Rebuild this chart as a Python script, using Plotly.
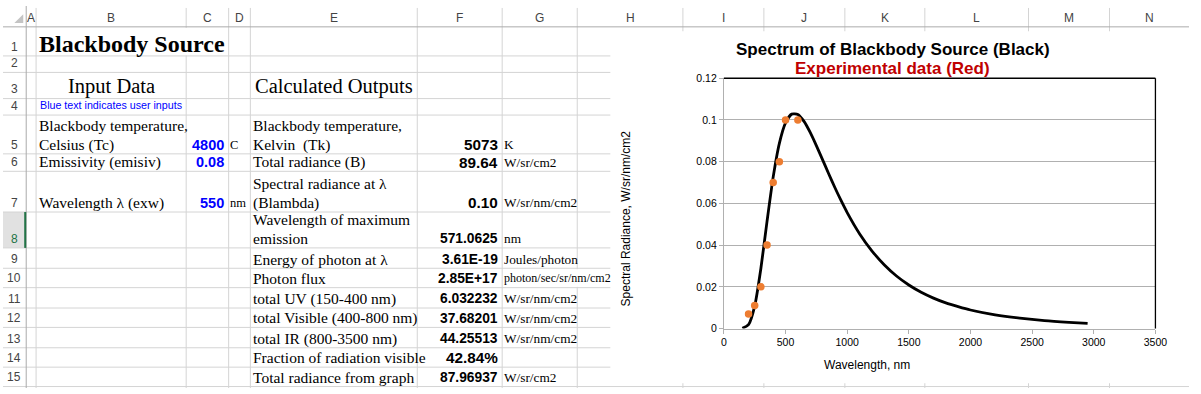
import plotly.graph_objects as go

W, H = 1201, 394

# ---------------- chart data ----------------
wavelength_nm = [150, 200, 250, 300, 350, 400, 450, 500, 550, 600, 650, 700, 750, 800, 850, 900,
                 950, 1000, 1100, 1200, 1300, 1400, 1500, 1600, 1700, 1800, 1900, 2000, 2200,
                 2400, 2600, 2800, 2950]
spectral_radiance = [0.0001, 0.0019, 0.0108, 0.0288, 0.0514, 0.0727, 0.0888, 0.0986, 0.1028,
                     0.1026, 0.0993, 0.0940, 0.0877, 0.0810, 0.0742, 0.0676, 0.0614, 0.0556,
                     0.0455, 0.0373, 0.0306, 0.0252, 0.0209, 0.0174, 0.0146, 0.0123, 0.0105,
                     0.0089, 0.0066, 0.0050, 0.0038, 0.0030, 0.0025]
exp_wavelength_nm = [200, 250, 300, 350, 400, 450, 500, 600]
exp_radiance = [0.007, 0.011, 0.02, 0.04, 0.07, 0.08, 0.1, 0.1]

y_tick_vals = [0, 0.02, 0.04, 0.06, 0.08, 0.1, 0.12]
y_tick_text = ["0", "0.02", "0.04", "0.06", "0.08", "0.1", "0.12"]
x_tick_vals = [0, 500, 1000, 1500, 2000, 2500, 3000, 3500]

chart_title_1 = "Spectrum of Blackbody Source (Black)"
chart_title_2 = "Experimental data (Red)"
x_title = "Wavelength, nm"
y_title = "Spectral Radiance, W/sr/nm/cm2"

# ---------------- spreadsheet content ----------------
col_letters = ["A", "B", "C", "D", "E", "F", "G", "H", "I", "J", "K", "L", "M", "N"]
row_numbers = [str(i) for i in range(1, 16)]

sheet_title = "Blackbody Source"
input_header = "Input Data"
output_header = "Calculated Outputs"
note_text = "Blue text indicates user inputs"

input_rows = [5, 6, 7]
input_labels = [["Blackbody temperature,", "Celsius (Tc)"], ["Emissivity (emisiv)"], ["Wavelength λ (exw)"]]
input_values = ["4800", "0.08", "550"]
input_units = ["C", "", "nm"]

output_rows = [5, 6, 7, 8, 9, 10, 11, 12, 13, 14, 15]
output_labels = [["Blackbody temperature,", "Kelvin\u00a0 (Tk)"], ["Total radiance (B)"],
                 ["Spectral radiance at λ", "(Blambda)"], ["Wavelength of maximum", "emission"],
                 ["Energy of photon at λ"], ["Photon flux"], ["total UV (150-400 nm)"],
                 ["total Visible (400-800 nm)"], ["total IR (800-3500 nm)"],
                 ["Fraction of radiation visible"], ["Total radiance from graph"]]
output_values = ["5073", "89.64", "0.10", "571.0625", "3.61E-19", "2.85E+17", "6.032232",
                 "37.68201", "44.25513", "42.84%", "87.96937"]
output_units = ["K", "W/sr/cm2", "W/sr/nm/cm2", "nm", "Joules/photon", "photon/sec/sr/nm/cm2",
                "W/sr/nm/cm2", "W/sr/nm/cm2", "W/sr/nm/cm2", "", "W/sr/cm2"]

# ---------------- sheet geometry (pixels) ----------------
ROW_HDR_W = 23.5
HDR_H = 21.5
col_edges = [33.5, 185.5, 228.5, 250.5, 419.5, 505.5, 581.5, 688.5, 770.5, 852.5, 933.5, 1038.5, 1120.5, 1202]
row_edges = [21.5, 51.5, 68.5, 95.5, 112.5, 152.5, 170.5, 212.5, 249.5, 270.5, 290.5, 311.5, 331.5, 352.5, 372.5, 392.5]

SERIF = "Liberation Serif"
SANS = "Liberation Sans"
GRID = "#D4D4D4"
HDRLINE = "#ABABAB"


def px(x):
    return x / W


def py(y):
    return 1 - y / H


def line(x0, y0, x1, y1, color, width=1, layer="below"):
    return dict(type="line", xref="paper", yref="paper", x0=px(x0), y0=py(y0), x1=px(x1), y1=py(y1),
                line=dict(color=color, width=width), layer=layer)


def rect(x0, y0, x1, y1, fill, layer="below"):
    return dict(type="rect", xref="paper", yref="paper", x0=px(x0), y0=py(y0), x1=px(x1), y1=py(y1),
                line=dict(width=0), fillcolor=fill, layer=layer)


def ann(text, x, y, size, family=SERIF, color="#000000", bold=False, xanchor="left", angle=0):
    if bold:
        text = "<b>" + text + "</b>"
    return dict(text=text, x=px(x), y=py(y), xref="paper", yref="paper", xanchor=xanchor,
                yanchor="middle", showarrow=False, borderpad=0, borderwidth=0, textangle=angle,
                font=dict(size=size, family=family, color=color))


shapes = []
annotations = []

# selected row 8 header
shapes.append(rect(0, row_edges[7], ROW_HDR_W, row_edges[8], "#E1E1E1"))

# horizontal grid lines (incl. row header separators)
for yb in row_edges[1:]:
    shapes.append(line(0, yb, W, yb, GRID))
# vertical grid lines
for xe in col_edges[:-1]:
    shapes.append(line(xe, 2, xe, H, GRID))
# hide grid where text overflows
shapes.append(rect(col_edges[1] - 1.5, row_edges[0] + 1, col_edges[1] + 1.5, row_edges[1] - 0.8, "white"))
shapes.append(rect(col_edges[6] - 1.5, row_edges[9] + 1, col_edges[6] + 1.5, row_edges[10] - 0.8, "white"))
# header lines
shapes.append(line(0, HDR_H, W, HDR_H, HDRLINE))
shapes.append(line(ROW_HDR_W, 0, ROW_HDR_W, H, HDRLINE))
# selection mark on row 8 header
shapes.append(line(ROW_HDR_W - 1, row_edges[7], ROW_HDR_W - 1, row_edges[8], "#217346", 2))
# corner triangle
shapes.append(dict(type="path", xref="paper", yref="paper",
                   path="M %f %f L %f %f L %f %f Z" % (px(20.5), py(8.5), px(20.5), py(17.5), px(11.5), py(17.5)),
                   fillcolor="#C4C4C4", line=dict(width=0), layer="below"))

# chart object background
shapes.append(rect(615, 26, W + 1, 389, "white"))

# top and right plot-area border of the chart
shapes.append(dict(type="line", xref="x domain", yref="y domain", x0=0, y0=1, x1=1, y1=1,
                   line=dict(color="black", width=1.3), layer="above"))
shapes.append(dict(type="line", xref="x domain", yref="y domain", x0=1, y0=0, x1=1, y1=1,
                   line=dict(color="black", width=1.3), layer="above"))

# column letters
col_lefts = [ROW_HDR_W] + col_edges[:-1]
for i, letter in enumerate(col_letters):
    cx = (col_lefts[i] + col_edges[i]) / 2
    annotations.append(ann(letter, cx, 12.5, 12, SANS, "#444444", xanchor="center"))

# row numbers
for i, rn in enumerate(row_numbers):
    cy = row_edges[i + 1] - 9.5
    color = "#217346" if rn == "8" else "#444444"
    annotations.append(ann(rn, 11.5, cy, 12, SANS, color, xanchor="center"))


def row_center(r, line_from_bottom=0):
    return row_edges[r] - 9.5 - 20 * line_from_bottom


# title & headers
annotations.append(ann(sheet_title, 36, 39, 24, SERIF, bold=True))
annotations.append(ann(input_header, (col_edges[0] + col_edges[1]) / 2, 83.5, 20.5, SERIF, xanchor="center"))
annotations.append(ann(output_header, (col_edges[3] + col_edges[4]) / 2, 83.5, 20.5, SERIF, xanchor="center"))
annotations.append(ann(note_text, 37, 102, 10.7, SANS, "#0000FF"))

# inputs
for r, labels, val, unit in zip(input_rows, input_labels, input_values, input_units):
    n = len(labels)
    for k, t in enumerate(labels):
        annotations.append(ann(t, 36, row_center(r, n - 1 - k), 15.5, SERIF))
    annotations.append(ann(val, 224, row_center(r), 14.5, SANS, "#0000FF", bold=True, xanchor="right"))
    if unit:
        annotations.append(ann(unit, 229.5, row_center(r), 12.5, SERIF))

# outputs
for r, labels, val, unit in zip(output_rows, output_labels, output_values, output_units):
    n = len(labels)
    for k, t in enumerate(labels):
        annotations.append(ann(t, 253, row_center(r, n - 1 - k), 15.5, SERIF))
    vsize = 15.3 if len(val) <= 6 else 13.8
    annotations.append(ann(val, 501, row_center(r), vsize, SANS, bold=True, xanchor="right"))
    if unit:
        usize = 12 if len(unit) > 14 else 13.3
        annotations.append(ann(unit, 507.5, row_center(r), usize, SERIF))

# chart titles
annotations.append(ann(chart_title_1, 901, 44.5, 17, SANS, bold=True, xanchor="center"))
annotations.append(ann(chart_title_2, 901, 64.5, 17, SANS, "#C00000", bold=True, xanchor="center"))
annotations.append(ann(x_title, 875, 370.5, 12, SANS, xanchor="center"))
annotations.append(ann(y_title, 631, 219, 12, SANS, xanchor="center", angle=-90))

fig = go.Figure()
fig.add_trace(go.Scatter(x=wavelength_nm, y=spectral_radiance, mode="lines",
                         line=dict(color="black", width=2.8, shape="spline", smoothing=0.6),
                         hoverinfo="skip", showlegend=False))
fig.add_trace(go.Scatter(x=exp_wavelength_nm, y=exp_radiance, mode="markers",
                         marker=dict(color="#ED7D31", size=7.5, line=dict(width=0)),
                         hoverinfo="skip", showlegend=False))

axis_gray = "#B0B0B0"
fig.update_layout(
    width=W, height=H, autosize=False,
    margin=dict(l=0, r=0, t=0, b=0, pad=0),
    paper_bgcolor="white", plot_bgcolor="rgba(0,0,0,0)",
    showlegend=False,
    xaxis=dict(domain=[px(730), px(1167)], range=[0, 3500], tickvals=x_tick_vals,
               showgrid=False, zeroline=False, showline=True, linecolor=axis_gray, linewidth=1,
               ticks="outside", ticklen=4, tickcolor=axis_gray,
               tickfont=dict(family=SANS, size=10.5, color="#000000"), fixedrange=True),
    yaxis=dict(domain=[py(332.7), py(74.5)], range=[0, 0.12], tickvals=y_tick_vals, ticktext=y_tick_text,
               showgrid=True, gridcolor=axis_gray, gridwidth=1, zeroline=False,
               showline=True, linecolor=axis_gray, linewidth=1,
               ticks="outside", ticklen=4, tickcolor=axis_gray,
               tickfont=dict(family=SANS, size=10.5, color="#000000"), fixedrange=True),
    shapes=shapes,
    annotations=annotations,
)

fig.write_html("out.html", include_plotlyjs=True, full_html=True,
               config={"displayModeBar": False, "staticPlot": True},
               post_script="document.body.style.margin='0';document.body.style.overflow='hidden';")
